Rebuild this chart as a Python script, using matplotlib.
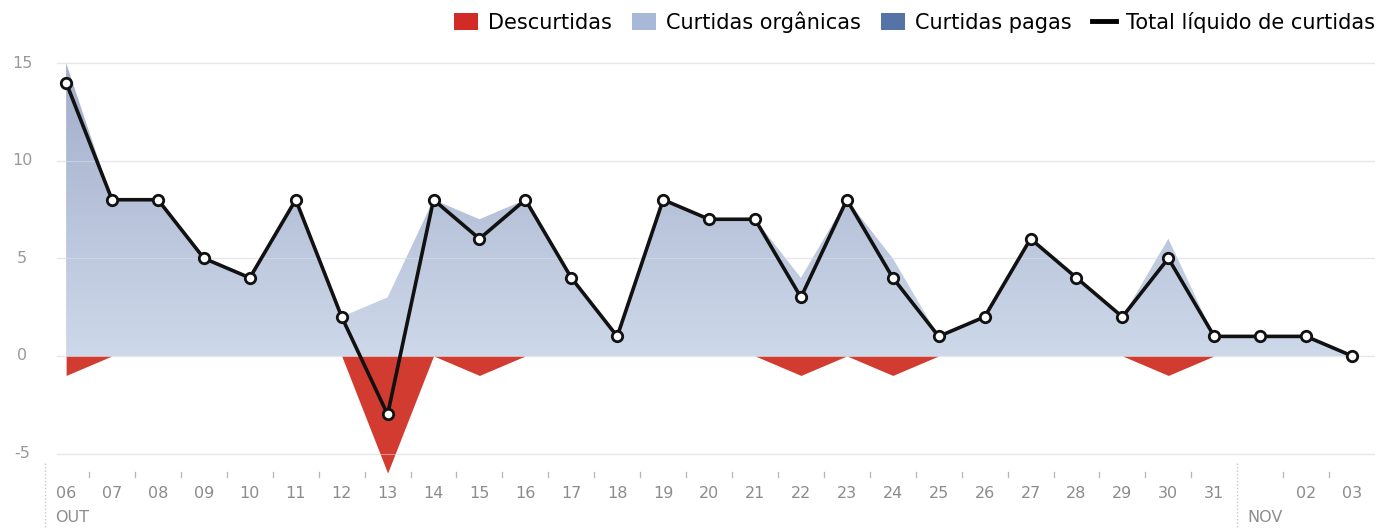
import matplotlib
matplotlib.use("Agg")
import matplotlib.pyplot as plt
import matplotlib.transforms as mtransforms
import numpy as np
from matplotlib.colors import LinearSegmentedColormap
from matplotlib.patches import Patch
from matplotlib.lines import Line2D

days = ["06", "07", "08", "09", "10", "11", "12", "13", "14", "15", "16", "17", "18",
        "19", "20", "21", "22", "23", "24", "25", "26", "27", "28", "29", "30", "31",
        "", "02", "03"]
organicas = [15, 8, 8, 5, 4, 8, 2, 3, 8, 7, 8, 4, 1, 8, 7, 7, 4, 8, 5, 1, 2, 6, 4, 2, 6, 1, 1, 1, 0]
pagas = [0] * 29
descurtidas = [-1, 0, 0, 0, 0, 0, 0, -6, 0, -1, 0, 0, 0, 0, 0, 0, -1, 0, -1, 0, 0, 0, 0, 0, -1, 0, 0, 0, 0]
total = [14, 8, 8, 5, 4, 8, 2, -3, 8, 6, 8, 4, 1, 8, 7, 7, 3, 8, 4, 1, 2, 6, 4, 2, 5, 1, 1, 1, 0]
months = ["OUT", "NOV"]
yticks = [15, 10, 5, 0, -5]

plt.rcParams['font.family'] = ['DejaVu Sans']

W, H = 1391, 528
fig = plt.figure(figsize=(W / 100, H / 100), dpi=100)
ax_l, ax_r = 45 / W, 1375 / W
ax_b, ax_t = 1 - 475 / H, 1 - 50 / H
ax = fig.add_axes([ax_l, ax_b, ax_r - ax_l, ax_t - ax_b])
x = np.arange(len(days))
ymin, ymax = -6.1, 15.67
XL = (-0.46, 28.5)
for s in ax.spines.values():
    s.set_visible(False)
ax.set_xticks([])
ax.set_yticks([])

# gridlines
for yv in yticks:
    ax.plot([-0.2, XL[1]], [yv, yv], color="#ececec", lw=1.0, zorder=1)
    ax.plot([-0.2, XL[1]], [yv, yv], color="#dfe4ee", lw=0.8, zorder=3, alpha=0.5)

# organic area with vertical gradient
pos = np.array(organicas) + np.array(pagas)
poly = ax.fill_between(x, 0, pos, color="none", lw=0, zorder=2)
cmap = LinearSegmentedColormap.from_list("g", ["#cdd8e9", "#a2aecb"])
grad = np.linspace(0, 1, 256).reshape(-1, 1)
im = ax.imshow(grad, cmap=cmap, origin="lower", aspect="auto",
               extent=[XL[0], XL[1], 0, 15], zorder=2)
im.set_clip_path(poly.get_paths()[0], transform=ax.transData)

# paid area (zero)
ax.fill_between(x, organicas, pos, color="#5a77aa", lw=0, zorder=2)

# unfollows
ax.fill_between(x, 0, descurtidas, color="#d23c30", lw=0, zorder=2)

# net line
ax.plot(x, total, color="#111111", lw=2.6, zorder=4, solid_joinstyle="round",
        marker="o", markersize=7.5, markerfacecolor="white", markeredgecolor="#111111",
        markeredgewidth=2.0)

ax.set_xlim(*XL)
ax.set_ylim(ymin, ymax)

# y tick labels
ytr = mtransforms.blended_transform_factory(fig.transFigure, ax.transData)
for yv in yticks:
    fig.text(22 / W, yv, str(yv), transform=ytr, ha="center", va="center",
             fontsize=11.5, color="#999999")

# x tick labels
tr = mtransforms.blended_transform_factory(ax.transData, fig.transFigure)
for i, d in enumerate(days):
    if d:
        fig.text(i, 1 - 494 / H, d, transform=tr, ha="center", va="center",
                 fontsize=11.5, color="#8c8c8c")
for i in range(len(days) - 1):
    xm = i + 0.5
    if abs(xm - 25.5) < 0.01:
        continue
    fig.add_artist(Line2D([xm, xm], [1 - 472 / H, 1 - 477 / H], transform=tr,
                          color="#b5b5b5", lw=0.9))

# month labels and separators
fig.text(-0.24, 1 - 517 / H, months[0], transform=tr, ha="left", va="center",
         fontsize=11.5, color="#8c8c8c")
fig.text(25.72, 1 - 517 / H, months[1], transform=tr, ha="left", va="center",
         fontsize=11.5, color="#8c8c8c")
for xs in [-0.46, 25.5]:
    fig.add_artist(Line2D([xs, xs], [1 - 463 / H, 0], transform=tr,
                          color="#c8c8c8", lw=1.0, ls=(0, (1, 1.5))))

# legend
handles = [Patch(facecolor="#d22a27", edgecolor="none"),
           Patch(facecolor="#a7b9d7", edgecolor="none"),
           Patch(facecolor="#5673a8", edgecolor="none"),
           Line2D([], [], color="black", lw=3.5)]
labels = ["Descurtidas", "Curtidas orgânicas", "Curtidas pagas", "Total líquido de curtidas"]
fig.legend(handles, labels, loc="center right", bbox_to_anchor=(1375 / W, 1 - 22 / H),
           ncol=4, frameon=False, fontsize=15, handlelength=1.15, handleheight=0.85,
           handletextpad=0.5, columnspacing=0.95, borderaxespad=0, borderpad=0)

fig.savefig("out.png", dpi=100, facecolor="white")
